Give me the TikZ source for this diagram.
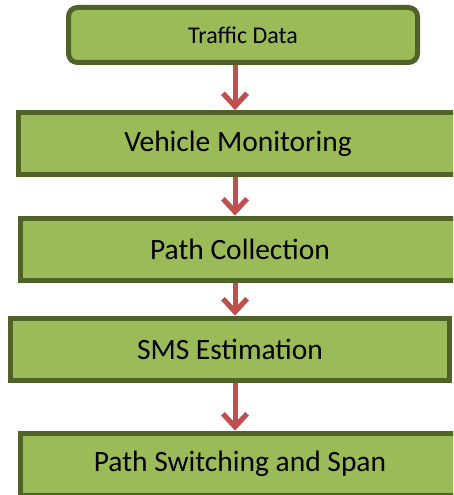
\documentclass[tikz,border=0pt]{standalone}
\usepackage{fontspec}
\setmainfont{Carlito}
\usetikzlibrary{arrows.meta}
\definecolor{boxfill}{HTML}{9BBB59}
\definecolor{boxline}{HTML}{4F6228}
\definecolor{arrowred}{HTML}{C0504D}
\tikzset{
  stagebox/.style={draw=boxline, fill=boxfill, line width=5pt, inner sep=0pt,
    minimum width=439pt, minimum height=62pt, font=\fontsize{29.5}{34}\selectfont},
  topbox/.style={stagebox, rounded corners=9pt, minimum width=349pt,
    minimum height=55pt, font=\fontsize{24}{28}\selectfont},
  flowarrow/.style={draw=arrowred, line width=5pt,
    -{Straight Barb[length=13pt, width=24pt, line width=5pt]}},
  flowshadow/.style={flowarrow, draw=black!35, xshift=-1.2pt, yshift=-1.5pt},
}
\begin{document}
\begin{tikzpicture}[x=1pt, y=-1pt]
  \useasboundingbox (0,0) rectangle (453,495);
  \clip (0,0) rectangle (453,495);
  % process stages
  \node[topbox]   (data)    at (243,35)    {Traffic Data};
  \node[stagebox] (monitor) at (238,143.5) {Vehicle Monitoring};
  \node[stagebox] (collect) at (240,249)   {Path Collection};
  \node[stagebox] (sms)     at (230,349)   {SMS Estimation};
  \node[stagebox] (switch)  at (240,464)   {Path Switching and Span};
  % common vertical line for the connectors
  \coordinate (axis) at (235,0);
  % connectors: soft shadow first, then the red arrow
  \foreach \a/\b in {data/monitor, monitor/collect, collect/sms, sms/switch} {
    \draw[flowshadow] (\a.south -| axis) -- (\b.north -| axis);
    \draw[flowarrow]  (\a.south -| axis) -- (\b.north -| axis);
  }
\end{tikzpicture}
\end{document}
